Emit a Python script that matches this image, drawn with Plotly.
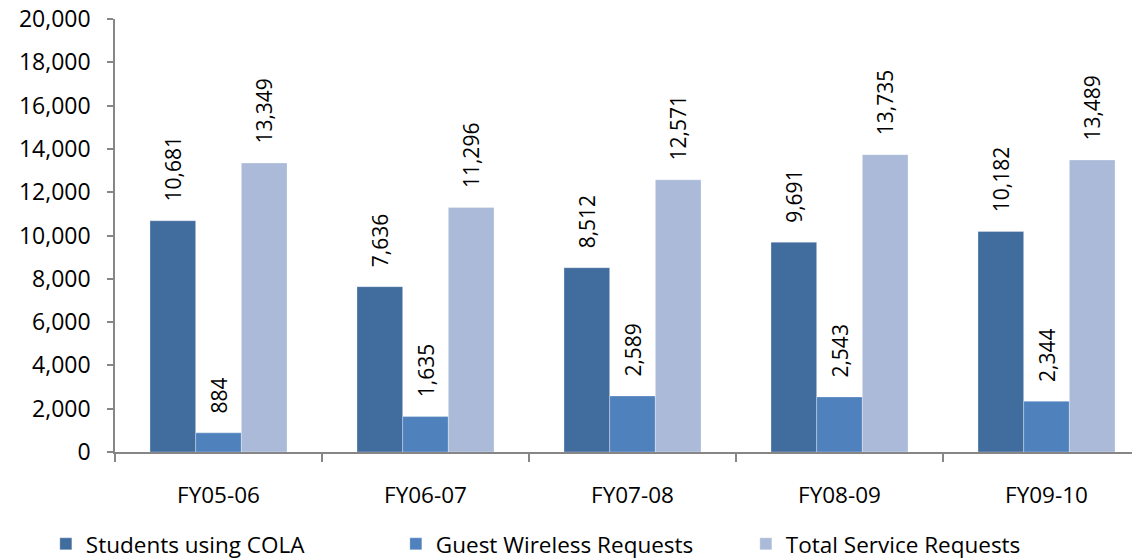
import plotly.graph_objects as go

categories = ["FY05-06", "FY06-07", "FY07-08", "FY08-09", "FY09-10"]
students_cola = [10681, 7636, 8512, 9691, 10182]
guest_wireless = [884, 1635, 2589, 2543, 2344]
total_service = [13349, 11296, 12571, 13735, 13489]
series_names = ["Students using COLA", "Guest Wireless Requests", "Total Service Requests"]
colors = ["#416C9E", "#4F81BD", "#AABAD8"]

FONT = "Open Sans"
PAD = "\u00a0\u00a0\u00a0"
fig = go.Figure()
for name, vals, col in zip(series_names, [students_cola, guest_wireless, total_service], colors):
    fig.add_trace(go.Bar(
        x=categories, y=vals, name=name,
        marker=dict(color=col, line=dict(width=0.6, color="rgba(255,255,255,0.5)")),
        text=[PAD + f"{v:,}" for v in vals], textposition="outside", textangle=-90,
        constraintext="none",
        textfont=dict(family=FONT, size=21, color="#000000"),
        cliponaxis=False,
    ))

fig.update_layout(
    width=1132, height=559,
    margin=dict(l=115, r=0, t=19, b=107, autoexpand=False),
    paper_bgcolor="white", plot_bgcolor="white",
    barmode="group", bargap=0.338, bargroupgap=0,
    font=dict(family=FONT, size=22, color="#000000"),
    showlegend=True,
    legend=dict(orientation="h", x=-0.068, xanchor="left", y=-0.213, yanchor="middle",
                entrywidth=305, entrywidthmode="pixels", itemwidth=30,
                font=dict(family=FONT, size=22.5, color="#000000"),
                traceorder="normal"),
)
fig.update_yaxes(range=[0, 20000], dtick=2000, tickformat=",d",
                 showgrid=False, zeroline=False, automargin=False,
                 showline=True, linecolor="#868686", linewidth=1.5,
                 ticks="outside", ticklen=6, tickcolor="#868686", tickwidth=1.5,
                 ticklabelstandoff=12, ticklabeloverflow="allow",
                 tickfont=dict(family=FONT, size=23, color="#000000"))
fig.update_xaxes(range=[-0.5, 4.413],
                 showgrid=False, showline=True, linecolor="#868686", linewidth=2,
                 automargin=False,
                 ticks="outside", tickson="boundaries", ticklen=8, tickcolor="#868686", tickwidth=1.5,
                 ticklabelstandoff=22, ticklabeloverflow="allow",
                 tickfont=dict(family=FONT, size=22.5, color="#000000"))

fig.write_html("out.html", config={"displayModeBar": False},
               post_script="document.body.style.margin='0';")
